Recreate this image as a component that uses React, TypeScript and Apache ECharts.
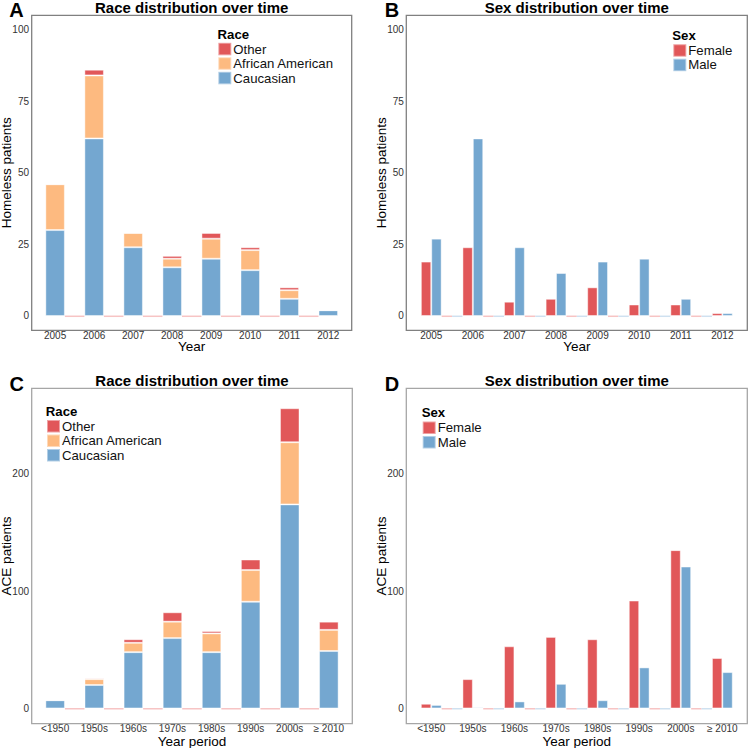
import React, { useEffect, useRef } from "react";
import * as echarts from "echarts";

// ---- data ----
const years = ["2005", "2006", "2007", "2008", "2009", "2010", "2011", "2012"];
const homelessCaucasian = [30, 62, 24, 17, 20, 16, 6, 2];
const homelessAfricanAmerican = [16, 22, 5, 3, 7, 7, 3, 0];
const homelessOther = [0, 2, 0, 1, 2, 1, 1, 0];
const homelessFemale = [19, 24, 5, 6, 10, 4, 4, 1];
const homelessMale = [27, 62, 24, 15, 19, 20, 6, 1];

const periods = ["<1950", "1950s", "1960s", "1970s", "1980s", "1990s", "2000s", "≥ 2010"];
const aceCaucasian = [7, 20, 48, 60, 48, 91, 174, 49];
const aceAfricanAmerican = [0, 5, 8, 14, 16, 27, 53, 18];
const aceOther = [0, 1, 3, 8, 2, 9, 29, 7];
const aceFemale = [4, 25, 53, 61, 59, 92, 135, 43];
const aceMale = [3, 1, 6, 21, 7, 35, 121, 31];

const raceLegend = ["Other", "African American", "Caucasian"];
const sexLegend = ["Female", "Male"];

const homelessTicks = { max: 100, interval: 25 };
const aceTicks = { max: 260, interval: 100 };

// ---- styles ----
const FONT = "'Liberation Sans', Arial, Helvetica, sans-serif";
const RED = "#E15759";
const ORANGE = "#FDBA80";
const BLUE = "#74A7D0";
const PINK_LINE = "#F7C4C4";
const BLUE_LINE = "#CFE1F0";

type Frame = { l: number; t: number; r: number; b: number };
const frames: Frame[] = [
  { l: 31.7, t: 15.3, r: 351.7, b: 330.3 },
  { l: 406.3, t: 15.3, r: 747.3, b: 330.3 },
  { l: 31.7, t: 388.3, r: 352.3, b: 723.7 },
  { l: 406.3, t: 388.3, r: 747.3, b: 723.7 },
];
const frameColors = ["#808080", "#808080", "#a6a6a6", "#a6a6a6"];
const dataMax = [homelessTicks.max, homelessTicks.max, aceTicks.max, aceTicks.max];

function gridFor(f: Frame, max: number) {
  const unit = (f.r - f.l) / 8.2;
  const ppu = (f.b - f.t) / (max * 1.1);
  return {
    left: f.l + 0.1 * unit,
    width: 8 * unit,
    top: f.t + 0.05 * max * ppu,
    height: max * ppu,
  };
}

function baselineSeries(idx: number, cats: string[], twoTone: boolean) {
  return {
    type: "custom",
    xAxisIndex: idx,
    yAxisIndex: idx,
    z: 1,
    silent: true,
    data: cats.slice(0, -1).map((_, i) => [i, 0]),
    encode: { x: 0, y: 1 },
    renderItem: (params: any, api: any) => {
      const p = api.coord([api.value(0), 0]);
      const band = api.size([1, 0])[0];
      const y = p[1] + 0.3;
      if (!twoTone) {
        return {
          type: "line",
          shape: { x1: p[0] + 0.25 * band, y1: y, x2: p[0] + 0.75 * band, y2: y },
          style: { stroke: PINK_LINE, lineWidth: 1.5 },
        };
      }
      return {
        type: "group",
        children: [
          {
            type: "line",
            shape: { x1: p[0] + 0.25 * band, y1: y, x2: p[0] + 0.5 * band, y2: y },
            style: { stroke: PINK_LINE, lineWidth: 1.5 },
          },
          {
            type: "line",
            shape: { x1: p[0] + 0.5 * band, y1: y, x2: p[0] + 0.75 * band, y2: y },
            style: { stroke: BLUE_LINE, lineWidth: 1.5 },
          },
        ],
      };
    },
  };
}

const barBorder = { borderColor: "rgba(255,255,255,0.45)", borderWidth: 1 };

function stackedBar(idx: number, name: string, data: number[], color: string) {
  return {
    type: "bar",
    name,
    xAxisIndex: idx,
    yAxisIndex: idx,
    stack: "s" + idx,
    barWidth: "50%",
    z: 2,
    data,
    itemStyle: { color, ...barBorder },
  };
}

function dodgeBar(idx: number, name: string, data: number[], color: string) {
  return {
    type: "bar",
    name,
    xAxisIndex: idx,
    yAxisIndex: idx,
    barWidth: "25%",
    barGap: "0%",
    z: 2,
    data,
    itemStyle: { color, ...barBorder },
  };
}

function txt(
  text: string,
  x: number,
  y: number,
  size: number,
  bold: boolean,
  align: string = "center",
  rotation = 0,
  lineHeight?: number
) {
  const style: any = {
    text,
    fontFamily: FONT,
    fontSize: size,
    fontWeight: bold ? "bold" : "normal",
    fill: "#000",
    align,
    verticalAlign: "middle",
  };
  if (lineHeight) style.lineHeight = lineHeight;
  return { type: "text", x, y, rotation, silent: true, style };
}

function legendFor(data: string[], left: number, top: number) {
  return {
    data,
    left,
    top,
    orient: "vertical",
    icon: "rect",
    itemWidth: 13,
    itemHeight: 12.5,
    itemGap: 0,
    padding: 0,
    selectedMode: false,
    textStyle: { fontFamily: FONT, fontSize: 13.2, color: "#111", padding: [0, 0, 0, -3] },
  };
}

export default function App() {
  const ref = useRef<HTMLDivElement>(null);

  useEffect(() => {
    if (!ref.current) return;
    const chart = echarts.init(ref.current, undefined, { renderer: "svg" });

    const grids = frames.map((f, i) => gridFor(f, dataMax[i]));
    const cats = [years, years, periods, periods];

    const xAxes = cats.map((c, i) => ({
      type: "category",
      gridIndex: i,
      data: c,
      axisLine: { show: false },
      axisTick: { show: false },
      axisLabel: {
        interval: 0,
        fontFamily: FONT,
        fontSize: 10,
        color: "#333",
        margin: i < 2 ? 15 : 15.5,
      },
    }));

    const yAxes = [0, 1, 2, 3].map((i) => {
      const t = i < 2 ? homelessTicks : aceTicks;
      return {
        type: "value",
        gridIndex: i,
        min: 0,
        max: t.max,
        interval: t.interval,
        axisLine: { show: false },
        axisTick: { show: false },
        splitLine: { show: false },
        axisLabel: {
          fontFamily: FONT,
          fontSize: 10,
          color: "#333",
          margin: 6.6,
          formatter: (v: number) => (v % t.interval === 0 ? String(v) : ""),
        },
      };
    });

    const series: any[] = [
      baselineSeries(0, years, false),
      stackedBar(0, "Caucasian", homelessCaucasian, BLUE),
      stackedBar(0, "African American", homelessAfricanAmerican, ORANGE),
      stackedBar(0, "Other", homelessOther, RED),
      baselineSeries(1, years, true),
      dodgeBar(1, "Female", homelessFemale, RED),
      dodgeBar(1, "Male", homelessMale, BLUE),
      baselineSeries(2, periods, false),
      stackedBar(2, "Caucasian", aceCaucasian, BLUE),
      stackedBar(2, "African American", aceAfricanAmerican, ORANGE),
      stackedBar(2, "Other", aceOther, RED),
      baselineSeries(3, periods, true),
      dodgeBar(3, "Female", aceFemale, RED),
      dodgeBar(3, "Male", aceMale, BLUE),
    ];

    const graphic: any[] = [];
    frames.forEach((f, i) => {
      graphic.push({
        type: "rect",
        silent: true,
        z: 10,
        shape: { x: f.l, y: f.t, width: f.r - f.l, height: f.b - f.t },
        style: { fill: "none", stroke: frameColors[i], lineWidth: 1.3 },
      });
    });
    // panel letters
    graphic.push(txt("A", 16.5, 10.3, 20, true, "center", 0, 16));
    graphic.push(txt("B", 392, 10.3, 20, true, "center", 0, 16));
    graphic.push(txt("C", 16.7, 383.9, 20, true, "center", 0, 16));
    graphic.push(txt("D", 392, 383.9, 20, true, "center", 0, 16));
    // titles
    const cx = frames.map((f) => (f.l + f.r) / 2);
    const cy = frames.map((f) => (f.t + f.b) / 2);
    graphic.push(txt("Race distribution over time", cx[0], 7.8, 15, true, "center", 0, 15));
    graphic.push(txt("Sex distribution over time", cx[1], 7.8, 15, true, "center", 0, 15));
    graphic.push(txt("Race distribution over time", cx[2], 380.4, 15, true, "center", 0, 15));
    graphic.push(txt("Sex distribution over time", cx[3], 380.4, 15, true, "center", 0, 15));
    // axis titles
    graphic.push(txt("Year", cx[0], 346.8, 13.5, false, "center", 0, 12));
    graphic.push(txt("Year", cx[1], 346.8, 13.5, false, "center", 0, 12));
    graphic.push(txt("Year period", cx[2], 741, 13.5, false, "center", 0, 12));
    graphic.push(txt("Year period", cx[3], 741, 13.5, false, "center", 0, 12));
    graphic.push(txt("Homeless patients", 6.9, cy[0], 13.5, false, "center", Math.PI / 2));
    graphic.push(txt("Homeless patients", 381.7, cy[1], 13.5, false, "center", Math.PI / 2));
    graphic.push(txt("ACE patients", 6.9, cy[2], 13.5, false, "center", Math.PI / 2));
    graphic.push(txt("ACE patients", 381.7, cy[3], 13.5, false, "center", Math.PI / 2));
    // legend titles
    graphic.push(txt("Race", 217.6, 34.2, 13.2, true, "left"));
    graphic.push(txt("Sex", 672.3, 35.5, 13.2, true, "left"));
    graphic.push(txt("Race", 45.8, 411.5, 13.2, true, "left"));
    graphic.push(txt("Sex", 421.7, 412.5, 13.2, true, "left"));

    chart.setOption({
      animation: false,
      backgroundColor: "#fff",
      textStyle: { fontFamily: FONT },
      grid: grids,
      xAxis: xAxes,
      yAxis: yAxes,
      legend: [
        legendFor(raceLegend, 217.3, 41.8),
        legendFor(sexLegend, 672.3, 43.2),
        legendFor(raceLegend, 46, 419),
        legendFor(sexLegend, 421.7, 420.5),
      ],
      series,
      graphic,
    });

    return () => chart.dispose();
  }, []);

  return (
    <div
      ref={ref}
      style={{ position: "fixed", left: 0, top: 0, width: 748, height: 748, background: "#fff" }}
    />
  );
}
